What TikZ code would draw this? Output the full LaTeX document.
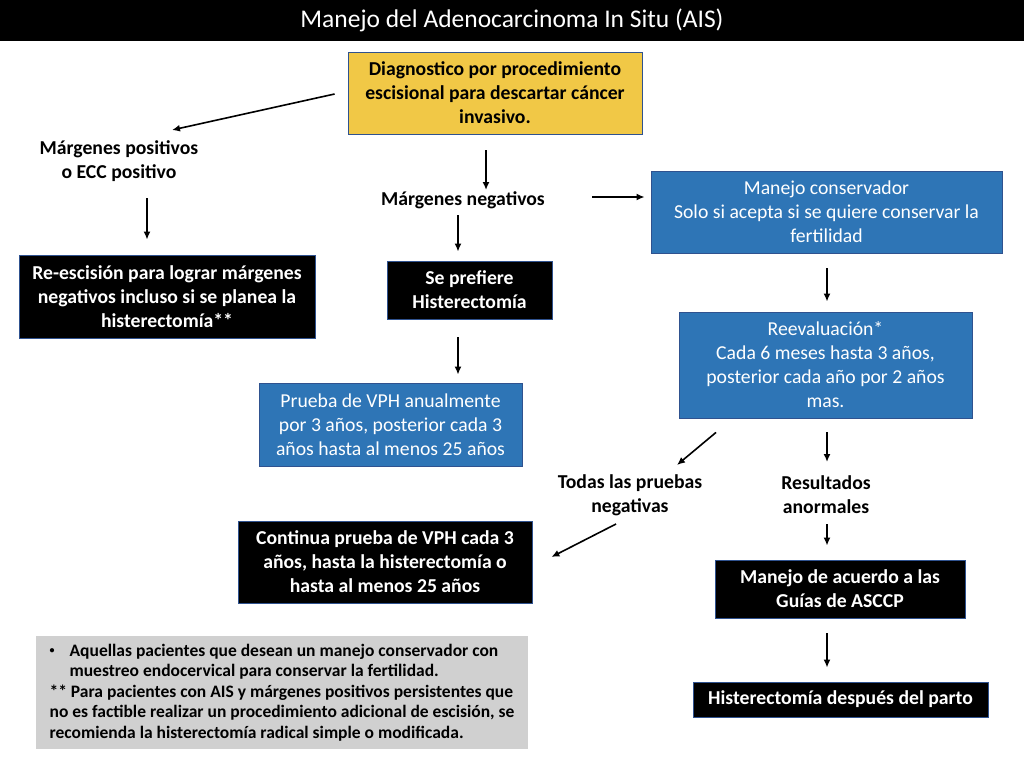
\documentclass[tikz,border=0pt]{standalone}
\usepackage{fontspec}
\setmainfont{Carlito}
\usepackage{tikz}
\usetikzlibrary{arrows.meta}
\definecolor{myyellow}{RGB}{241,200,70}
\definecolor{myblue}{RGB}{46,117,182}
\definecolor{mygray}{RGB}{208,208,208}
\definecolor{myedge}{RGB}{47,82,143}
\newcommand{\boxfont}{\fontsize{19.7}{24}\selectfont}
\newcommand{\notefont}{\fontsize{17.5}{20.5}\selectfont}
\tikzset{
    common/.style={draw=myedge, line width=0.8pt, rectangle, align=center, inner sep=2pt, font=\boxfont},
    yellowbox/.style={common, fill=myyellow, font=\boxfont\bfseries},
    darkbox/.style={common, fill=black, text=white, font=\boxfont\bfseries},
    bluebox/.style={common, fill=myblue, text=white},
    branch/.style={align=center, inner sep=2pt, font=\boxfont\bfseries},
    notes/.style={fill=mygray, align=left, inner sep=0pt, font=\notefont\bfseries},
    arr/.style={-{Latex[length=8pt,width=7pt]}, line width=1.6pt}
}

\begin{document}
\begin{tikzpicture}[x=1pt, y=-1pt]
    \useasboundingbox (0,0) rectangle (1024,768);

    \node[fill=black, text=white, minimum width=1024pt, minimum height=41pt, inner sep=0pt,
          font=\fontsize{25.5}{30}\selectfont] (title) at (512,20.5) {Manejo del Adenocarcinoma In Situ (AIS)};

    \node[yellowbox, minimum width=294pt, minimum height=82pt] (diag) at (495,93)
        {Diagnostico por procedimiento\\escisional para descartar cáncer\\invasivo.};
    \node[branch] (margPos) at (119,161) {Márgenes positivos\\o ECC positivo};
    \node[darkbox, minimum width=296pt, minimum height=83pt] (reesc) at (167,296.5)
        {Re-escisión para lograr márgenes\\negativos incluso si se planea la\\histerectomía**};
    \node[branch] (margNeg) at (463,200) {Márgenes negativos};
    \node[bluebox, minimum width=351pt, minimum height=82pt] (conserv) at (826.5,212)
        {Manejo conservador\\Solo si acepta si se quiere conservar la\\fertilidad};
    \node[darkbox, minimum width=165pt, minimum height=58pt] (prefHist) at (469.5,290)
        {Se prefiere\\Histerectomía};
    \node[bluebox, minimum width=263pt, minimum height=83pt] (vph) at (390.5,424.5)
        {Prueba de VPH anualmente\\por 3 años, posterior cada 3\\años hasta al menos 25 años};
    \node[bluebox, minimum width=293pt, minimum height=106pt] (reeval) at (825.5,365)
        {Reevaluación*\\Cada 6 meses hasta 3 años,\\posterior cada año por 2 años\\mas.};
    \node[branch] (todasNeg) at (630,495) {Todas las pruebas\\negativas};
    \node[branch] (resAnorm) at (826,495) {Resultados\\anormales};
    \node[darkbox, minimum width=294pt, minimum height=82pt] (continua) at (385,562)
        {Continua prueba de VPH cada 3\\años, hasta la histerectomía o\\hasta al menos 25 años};
    \node[darkbox, minimum width=250pt, minimum height=58pt] (guias) at (840,589)
        {Manejo de acuerdo a las\\Guías de ASCCP};
    \node[darkbox, minimum width=295pt, minimum height=35pt] (histParto) at (840.5,699.5)
        {Histerectomía después del parto};
    \node[notes, minimum width=492pt, minimum height=113pt] (notas) at (282,692.5)
        {\makebox[20pt][l]{\raisebox{2.5pt}{\fontsize{10}{10}\selectfont •}}Aquellas pacientes que desean un manejo conservador con\\
         \hspace*{20pt}muestreo endocervical para conservar la fertilidad.\\
         ** Para pacientes con AIS y márgenes positivos persistentes que\\
         no es factible realizar un procedimiento adicional de escisión, se\\
         recomienda la histerectomía radical simple o modificada.};

    \draw[arr] ([shift={(-13,1)}]diag.west) -- ([shift={(53,-31)}]margPos.center);
    \draw[arr] ([shift={(-9,16)}]diag.south) -- ([shift={(23,-10)}]margNeg.center);
    \draw[arr] ([shift={(28,37)}]margPos.center) -- ([shift={(-20,-15)}]reesc.north);
    \draw[arr] ([shift={(129,-3)}]margNeg.center) -- ([shift={(-6,-15)}]conserv.west);
    \draw[arr] ([shift={(-5,15)}]margNeg.center) -- ([shift={(-11.5,-9)}]prefHist.north);
    \draw[arr] ([shift={(-11.5,18)}]prefHist.south) -- ([shift={(67.5,-8)}]vph.north);
    \draw[arr] ([shift={(0.5,15)}]conserv.south) -- ([shift={(1.5,-10)}]reeval.north);
    \draw[arr] ([shift={(-109.5,14)}]reeval.south) -- ([shift={(47,-30)}]todasNeg.center);
    \draw[arr] ([shift={(1.5,14)}]reeval.south) -- ([shift={(1,-33)}]resAnorm.center);
    \draw[arr] ([shift={(-14,29)}]todasNeg.center) -- ([shift={(19,-5)}]continua.east);
    \draw[arr] ([shift={(1,29)}]resAnorm.center) -- ([shift={(-13,-14)}]guias.north);
    \draw[arr] ([shift={(-13,15)}]guias.south) -- ([shift={(-13.5,-14)}]histParto.north);
\end{tikzpicture}
\end{document}
